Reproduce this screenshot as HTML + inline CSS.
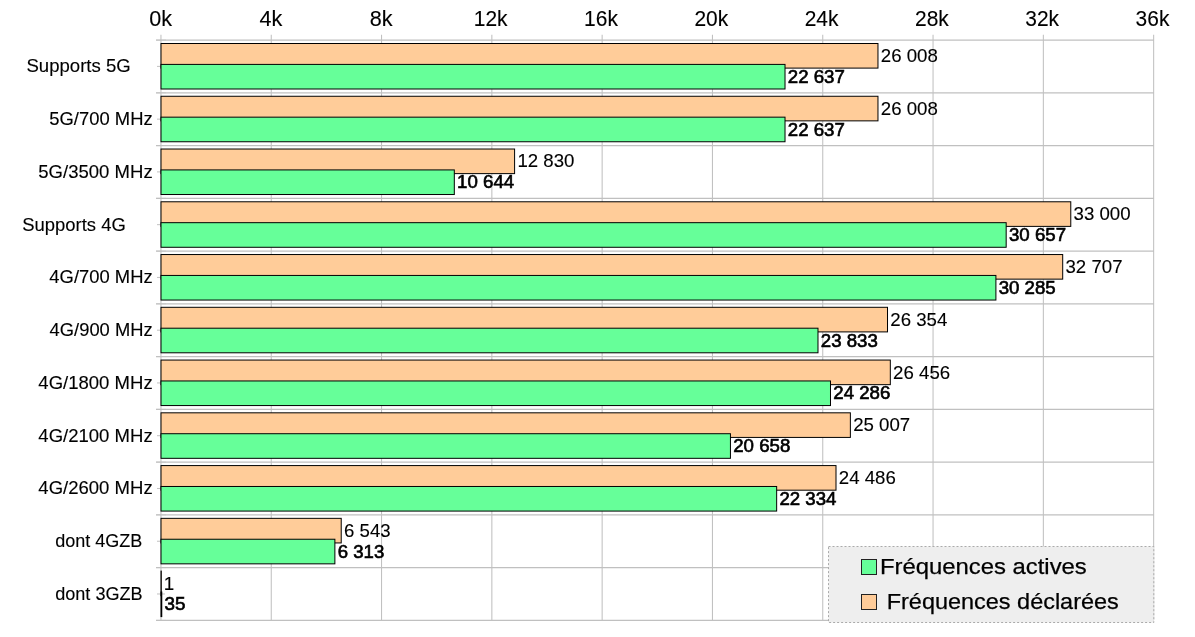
<!DOCTYPE html>
<html><head><meta charset="utf-8"><title>Fréquences</title>
<style>html,body{margin:0;padding:0;background:#fff;overflow:hidden}svg{display:block}text{font-family:"Liberation Sans",sans-serif;fill:#000;stroke:#000;stroke-width:0.12px}text.b{stroke-width:0.62px}text.l{stroke-width:0.25px}</style></head><body>
<svg width="1195" height="637" viewBox="0 0 1195 637">
<rect x="0" y="0" width="1195" height="637" fill="#fff"/>
<line x1="160.95" y1="34.7" x2="160.95" y2="620.36" stroke="#c0c0c0" stroke-width="1.05"/>
<line x1="271.25" y1="34.7" x2="271.25" y2="620.36" stroke="#c0c0c0" stroke-width="1.05"/>
<line x1="381.55" y1="34.7" x2="381.55" y2="620.36" stroke="#c0c0c0" stroke-width="1.05"/>
<line x1="491.85" y1="34.7" x2="491.85" y2="620.36" stroke="#c0c0c0" stroke-width="1.05"/>
<line x1="602.15" y1="34.7" x2="602.15" y2="620.36" stroke="#c0c0c0" stroke-width="1.05"/>
<line x1="712.45" y1="34.7" x2="712.45" y2="620.36" stroke="#c0c0c0" stroke-width="1.05"/>
<line x1="822.75" y1="34.7" x2="822.75" y2="620.36" stroke="#c0c0c0" stroke-width="1.05"/>
<line x1="933.05" y1="34.7" x2="933.05" y2="620.36" stroke="#c0c0c0" stroke-width="1.05"/>
<line x1="1043.35" y1="34.7" x2="1043.35" y2="620.36" stroke="#c0c0c0" stroke-width="1.05"/>
<line x1="1153.65" y1="34.7" x2="1153.65" y2="620.36" stroke="#c0c0c0" stroke-width="1.05"/>
<line x1="156" y1="40.00" x2="1154.00" y2="40.00" stroke="#c0c0c0" stroke-width="1.25"/>
<line x1="156.2" y1="40.00" x2="166" y2="40.00" stroke="#c0c0c0" stroke-width="1" opacity="0.6"/>
<line x1="156" y1="92.76" x2="1154.00" y2="92.76" stroke="#c0c0c0" stroke-width="1.25"/>
<line x1="156.2" y1="92.76" x2="166" y2="92.76" stroke="#c0c0c0" stroke-width="1" opacity="0.6"/>
<line x1="156" y1="145.52" x2="1154.00" y2="145.52" stroke="#c0c0c0" stroke-width="1.25"/>
<line x1="156.2" y1="145.52" x2="166" y2="145.52" stroke="#c0c0c0" stroke-width="1" opacity="0.6"/>
<line x1="156" y1="198.28" x2="1154.00" y2="198.28" stroke="#c0c0c0" stroke-width="1.25"/>
<line x1="156.2" y1="198.28" x2="166" y2="198.28" stroke="#c0c0c0" stroke-width="1" opacity="0.6"/>
<line x1="156" y1="251.04" x2="1154.00" y2="251.04" stroke="#c0c0c0" stroke-width="1.25"/>
<line x1="156.2" y1="251.04" x2="166" y2="251.04" stroke="#c0c0c0" stroke-width="1" opacity="0.6"/>
<line x1="156" y1="303.80" x2="1154.00" y2="303.80" stroke="#c0c0c0" stroke-width="1.25"/>
<line x1="156.2" y1="303.80" x2="166" y2="303.80" stroke="#c0c0c0" stroke-width="1" opacity="0.6"/>
<line x1="156" y1="356.56" x2="1154.00" y2="356.56" stroke="#c0c0c0" stroke-width="1.25"/>
<line x1="156.2" y1="356.56" x2="166" y2="356.56" stroke="#c0c0c0" stroke-width="1" opacity="0.6"/>
<line x1="156" y1="409.32" x2="1154.00" y2="409.32" stroke="#c0c0c0" stroke-width="1.25"/>
<line x1="156.2" y1="409.32" x2="166" y2="409.32" stroke="#c0c0c0" stroke-width="1" opacity="0.6"/>
<line x1="156" y1="462.08" x2="1154.00" y2="462.08" stroke="#c0c0c0" stroke-width="1.25"/>
<line x1="156.2" y1="462.08" x2="166" y2="462.08" stroke="#c0c0c0" stroke-width="1" opacity="0.6"/>
<line x1="156" y1="514.84" x2="1154.00" y2="514.84" stroke="#c0c0c0" stroke-width="1.25"/>
<line x1="156.2" y1="514.84" x2="166" y2="514.84" stroke="#c0c0c0" stroke-width="1" opacity="0.6"/>
<line x1="156" y1="567.60" x2="1154.00" y2="567.60" stroke="#c0c0c0" stroke-width="1.25"/>
<line x1="156.2" y1="567.60" x2="166" y2="567.60" stroke="#c0c0c0" stroke-width="1" opacity="0.6"/>
<line x1="156" y1="620.36" x2="1154.00" y2="620.36" stroke="#c0c0c0" stroke-width="1.25"/>
<line x1="156.2" y1="620.36" x2="166" y2="620.36" stroke="#c0c0c0" stroke-width="1" opacity="0.6"/>
<line x1="157" y1="66.38" x2="165" y2="66.38" stroke="#c0c0c0" stroke-width="1"/>
<line x1="157" y1="119.14" x2="165" y2="119.14" stroke="#c0c0c0" stroke-width="1"/>
<line x1="157" y1="171.90" x2="165" y2="171.90" stroke="#c0c0c0" stroke-width="1"/>
<line x1="157" y1="224.66" x2="165" y2="224.66" stroke="#c0c0c0" stroke-width="1"/>
<line x1="157" y1="277.42" x2="165" y2="277.42" stroke="#c0c0c0" stroke-width="1"/>
<line x1="157" y1="330.18" x2="165" y2="330.18" stroke="#c0c0c0" stroke-width="1"/>
<line x1="157" y1="382.94" x2="165" y2="382.94" stroke="#c0c0c0" stroke-width="1"/>
<line x1="157" y1="435.70" x2="165" y2="435.70" stroke="#c0c0c0" stroke-width="1"/>
<line x1="157" y1="488.46" x2="165" y2="488.46" stroke="#c0c0c0" stroke-width="1"/>
<line x1="157" y1="541.22" x2="165" y2="541.22" stroke="#c0c0c0" stroke-width="1"/>
<line x1="157" y1="593.98" x2="165" y2="593.98" stroke="#c0c0c0" stroke-width="1"/>
<rect x="161.00" y="43.50" width="716.97" height="24.6" fill="#ffcc99" stroke="#000" stroke-width="1"/>
<rect x="161.00" y="64.40" width="624.02" height="24.6" fill="#66ff99" stroke="#000" stroke-width="1"/>
<rect x="161.00" y="96.26" width="716.97" height="24.6" fill="#ffcc99" stroke="#000" stroke-width="1"/>
<rect x="161.00" y="117.16" width="624.02" height="24.6" fill="#66ff99" stroke="#000" stroke-width="1"/>
<rect x="161.00" y="149.02" width="353.59" height="24.6" fill="#ffcc99" stroke="#000" stroke-width="1"/>
<rect x="161.00" y="169.92" width="293.31" height="24.6" fill="#66ff99" stroke="#000" stroke-width="1"/>
<rect x="161.00" y="201.78" width="909.78" height="24.6" fill="#ffcc99" stroke="#000" stroke-width="1"/>
<rect x="161.00" y="222.68" width="845.17" height="24.6" fill="#66ff99" stroke="#000" stroke-width="1"/>
<rect x="161.00" y="254.54" width="901.70" height="24.6" fill="#ffcc99" stroke="#000" stroke-width="1"/>
<rect x="161.00" y="275.44" width="834.91" height="24.6" fill="#66ff99" stroke="#000" stroke-width="1"/>
<rect x="161.00" y="307.30" width="726.51" height="24.6" fill="#ffcc99" stroke="#000" stroke-width="1"/>
<rect x="161.00" y="328.20" width="656.99" height="24.6" fill="#66ff99" stroke="#000" stroke-width="1"/>
<rect x="161.00" y="360.06" width="729.32" height="24.6" fill="#ffcc99" stroke="#000" stroke-width="1"/>
<rect x="161.00" y="380.96" width="669.49" height="24.6" fill="#66ff99" stroke="#000" stroke-width="1"/>
<rect x="161.00" y="412.82" width="689.37" height="24.6" fill="#ffcc99" stroke="#000" stroke-width="1"/>
<rect x="161.00" y="433.72" width="569.44" height="24.6" fill="#66ff99" stroke="#000" stroke-width="1"/>
<rect x="161.00" y="465.58" width="675.00" height="24.6" fill="#ffcc99" stroke="#000" stroke-width="1"/>
<rect x="161.00" y="486.48" width="615.66" height="24.6" fill="#66ff99" stroke="#000" stroke-width="1"/>
<rect x="161.00" y="518.34" width="180.22" height="24.6" fill="#ffcc99" stroke="#000" stroke-width="1"/>
<rect x="161.00" y="539.24" width="173.88" height="24.6" fill="#66ff99" stroke="#000" stroke-width="1"/>
<rect x="161.00" y="571.10" width="0.30" height="24.6" fill="#ffcc99" stroke="#000" stroke-width="1"/>
<rect x="161.00" y="592.00" width="0.77" height="24.6" fill="#66ff99" stroke="#000" stroke-width="1"/>
<rect x="828.5" y="546.5" width="325.30" height="76" fill="#eeeeee" stroke="#aaaaaa" stroke-width="1" stroke-dasharray="2 2"/>
<rect x="861.5" y="559.5" width="15" height="15" fill="#66ff99" stroke="#222" stroke-width="1"/>
<rect x="861.5" y="594.5" width="15" height="15" fill="#ffcc99" stroke="#222" stroke-width="1"/>
<text x="149.20" y="26.00" font-size="22.8" textLength="22.80" lengthAdjust="spacingAndGlyphs">0k</text>
<text x="259.50" y="26.00" font-size="22.8" textLength="22.80" lengthAdjust="spacingAndGlyphs">4k</text>
<text x="369.80" y="26.00" font-size="22.8" textLength="22.80" lengthAdjust="spacingAndGlyphs">8k</text>
<text x="473.80" y="26.00" font-size="22.8" textLength="33.80" lengthAdjust="spacingAndGlyphs">12k</text>
<text x="584.10" y="26.00" font-size="22.8" textLength="33.80" lengthAdjust="spacingAndGlyphs">16k</text>
<text x="694.40" y="26.00" font-size="22.8" textLength="33.80" lengthAdjust="spacingAndGlyphs">20k</text>
<text x="804.70" y="26.00" font-size="22.8" textLength="33.80" lengthAdjust="spacingAndGlyphs">24k</text>
<text x="915.00" y="26.00" font-size="22.8" textLength="33.80" lengthAdjust="spacingAndGlyphs">28k</text>
<text x="1025.30" y="26.00" font-size="22.8" textLength="33.80" lengthAdjust="spacingAndGlyphs">32k</text>
<text x="1135.60" y="26.00" font-size="22.8" textLength="33.80" lengthAdjust="spacingAndGlyphs">36k</text>
<text x="880.77" y="62.00" font-size="19.0" textLength="57.04" lengthAdjust="spacingAndGlyphs">26 008</text>
<text x="787.82" y="82.50" font-size="18.0" class="b" textLength="57.04" lengthAdjust="spacingAndGlyphs">22 637</text>
<text x="26.42" y="72.00" font-size="18.2" textLength="104.31" lengthAdjust="spacingAndGlyphs">Supports 5G</text>
<text x="880.77" y="115.00" font-size="19.0" textLength="57.04" lengthAdjust="spacingAndGlyphs">26 008</text>
<text x="787.82" y="135.50" font-size="18.0" class="b" textLength="57.04" lengthAdjust="spacingAndGlyphs">22 637</text>
<text x="49.32" y="125.00" font-size="18.2" textLength="103.34" lengthAdjust="spacingAndGlyphs">5G/700 MHz</text>
<text x="517.39" y="167.00" font-size="19.0" textLength="57.04" lengthAdjust="spacingAndGlyphs">12 830</text>
<text x="457.11" y="187.50" font-size="18.0" class="b" textLength="57.04" lengthAdjust="spacingAndGlyphs">10 644</text>
<text x="38.32" y="178.00" font-size="18.2" textLength="114.35" lengthAdjust="spacingAndGlyphs">5G/3500 MHz</text>
<text x="1073.58" y="220.00" font-size="19.0" textLength="57.04" lengthAdjust="spacingAndGlyphs">33 000</text>
<text x="1008.97" y="240.50" font-size="18.0" class="b" textLength="57.04" lengthAdjust="spacingAndGlyphs">30 657</text>
<text x="22.22" y="231.00" font-size="18.2" textLength="103.60" lengthAdjust="spacingAndGlyphs">Supports 4G</text>
<text x="1065.50" y="273.00" font-size="19.0" textLength="57.04" lengthAdjust="spacingAndGlyphs">32 707</text>
<text x="998.71" y="293.50" font-size="18.0" class="b" textLength="57.04" lengthAdjust="spacingAndGlyphs">30 285</text>
<text x="49.34" y="283.00" font-size="18.2" textLength="103.32" lengthAdjust="spacingAndGlyphs">4G/700 MHz</text>
<text x="890.31" y="326.00" font-size="19.0" textLength="57.04" lengthAdjust="spacingAndGlyphs">26 354</text>
<text x="820.79" y="346.50" font-size="18.0" class="b" textLength="57.04" lengthAdjust="spacingAndGlyphs">23 833</text>
<text x="49.64" y="336.00" font-size="18.2" textLength="103.02" lengthAdjust="spacingAndGlyphs">4G/900 MHz</text>
<text x="893.12" y="379.00" font-size="19.0" textLength="57.04" lengthAdjust="spacingAndGlyphs">26 456</text>
<text x="833.29" y="398.50" font-size="18.0" class="b" textLength="57.04" lengthAdjust="spacingAndGlyphs">24 286</text>
<text x="38.33" y="389.00" font-size="18.2" textLength="114.33" lengthAdjust="spacingAndGlyphs">4G/1800 MHz</text>
<text x="853.17" y="431.00" font-size="19.0" textLength="57.04" lengthAdjust="spacingAndGlyphs">25 007</text>
<text x="733.24" y="451.50" font-size="18.0" class="b" textLength="57.04" lengthAdjust="spacingAndGlyphs">20 658</text>
<text x="38.33" y="442.00" font-size="18.2" textLength="114.33" lengthAdjust="spacingAndGlyphs">4G/2100 MHz</text>
<text x="838.80" y="484.00" font-size="19.0" textLength="57.04" lengthAdjust="spacingAndGlyphs">24 486</text>
<text x="779.46" y="504.50" font-size="18.0" class="b" textLength="57.04" lengthAdjust="spacingAndGlyphs">22 334</text>
<text x="38.33" y="494.00" font-size="18.2" textLength="114.33" lengthAdjust="spacingAndGlyphs">4G/2600 MHz</text>
<text x="344.02" y="537.00" font-size="19.0" textLength="46.56" lengthAdjust="spacingAndGlyphs">6 543</text>
<text x="337.68" y="557.50" font-size="18.0" class="b" textLength="46.56" lengthAdjust="spacingAndGlyphs">6 313</text>
<text x="55.20" y="547.00" font-size="18.2" textLength="87.19" lengthAdjust="spacingAndGlyphs">dont 4GZB</text>
<text x="163.63" y="590.00" font-size="19.0" textLength="10.48" lengthAdjust="spacingAndGlyphs">1</text>
<text x="164.57" y="609.50" font-size="18.0" class="b" textLength="20.97" lengthAdjust="spacingAndGlyphs">35</text>
<text x="55.20" y="600.00" font-size="18.2" textLength="87.50" lengthAdjust="spacingAndGlyphs">dont 3GZB</text>
<text x="879.90" y="574.00" font-size="22.0" class="l" textLength="206.90" lengthAdjust="spacingAndGlyphs">Fréquences actives</text>
<text x="886.74" y="609.00" font-size="22.0" class="l" textLength="232.05" lengthAdjust="spacingAndGlyphs">Fréquences déclarées</text>
</svg></body></html>
